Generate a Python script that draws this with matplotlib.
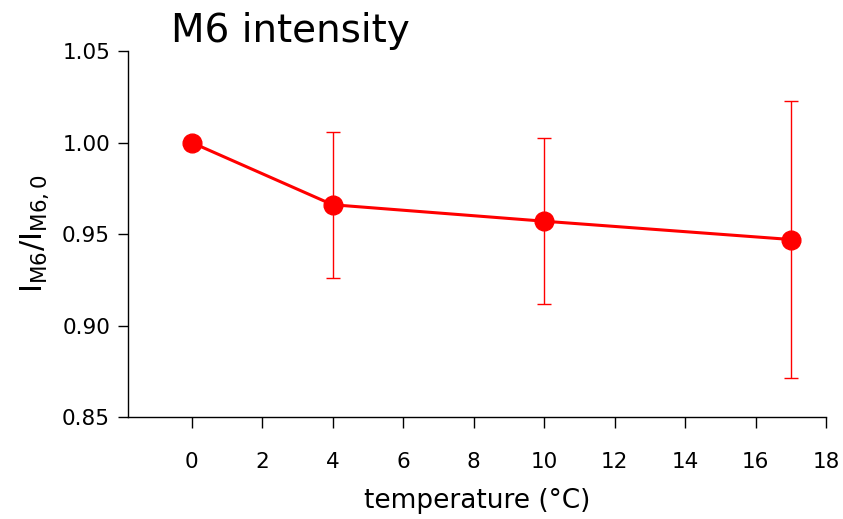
#!/usr/bin/env python3
# -*- coding: utf-8 -*-

import numpy as np
import matplotlib
matplotlib.use("Agg")
import matplotlib.pyplot as plt

# data
temperature = [0, 4, 10, 17]
ratio = [1.000, 0.966, 0.957, 0.947]
err = [0.0, 0.040, 0.0455, 0.0755]
x_ticks = [0, 2, 4, 6, 8, 10, 12, 14, 16, 18]
y_ticks = [0.85, 0.90, 0.95, 1.00, 1.05]

plt.rcParams["font.family"] = ["DejaVu Sans"]

fig = plt.figure(figsize=(8.43, 5.19), dpi=100)
ax = fig.add_axes([0.152, 0.1965, 0.828, 0.7052])

ax.errorbar(temperature, ratio, yerr=err, fmt="none", ecolor="red",
            elinewidth=1, capsize=5, capthick=1, zorder=2)
ax.plot(temperature, ratio, color="red", lw=2.2, marker="o", ms=13.5, zorder=3)

ax.set_xlim(-1.8, 18)
ax.set_ylim(0.85, 1.05)
ax.set_xticks(x_ticks)
ax.set_yticks(y_ticks)
ax.set_yticklabels([f"{v:.2f}" for v in y_ticks])

for s in ["top", "right"]:
    ax.spines[s].set_visible(False)
for s in ["left", "bottom"]:
    ax.spines[s].set_linewidth(1.0)

ax.tick_params(axis="x", direction="out", length=8, width=1, pad=17, labelsize=15.5)
ax.tick_params(axis="y", direction="out", length=7, width=1, pad=6, labelsize=15.5)

ax.set_xlabel("temperature (°C)", fontsize=19, labelpad=12)
ax.set_ylabel(r"I$_{\mathrm{M6}}$/I$_{\mathrm{M6,0}}$", fontsize=22, labelpad=8)

fig.text(0.345, 0.94, "M6 intensity", fontsize=28, ha="center", va="center")

fig.savefig("out.png", dpi=100)
